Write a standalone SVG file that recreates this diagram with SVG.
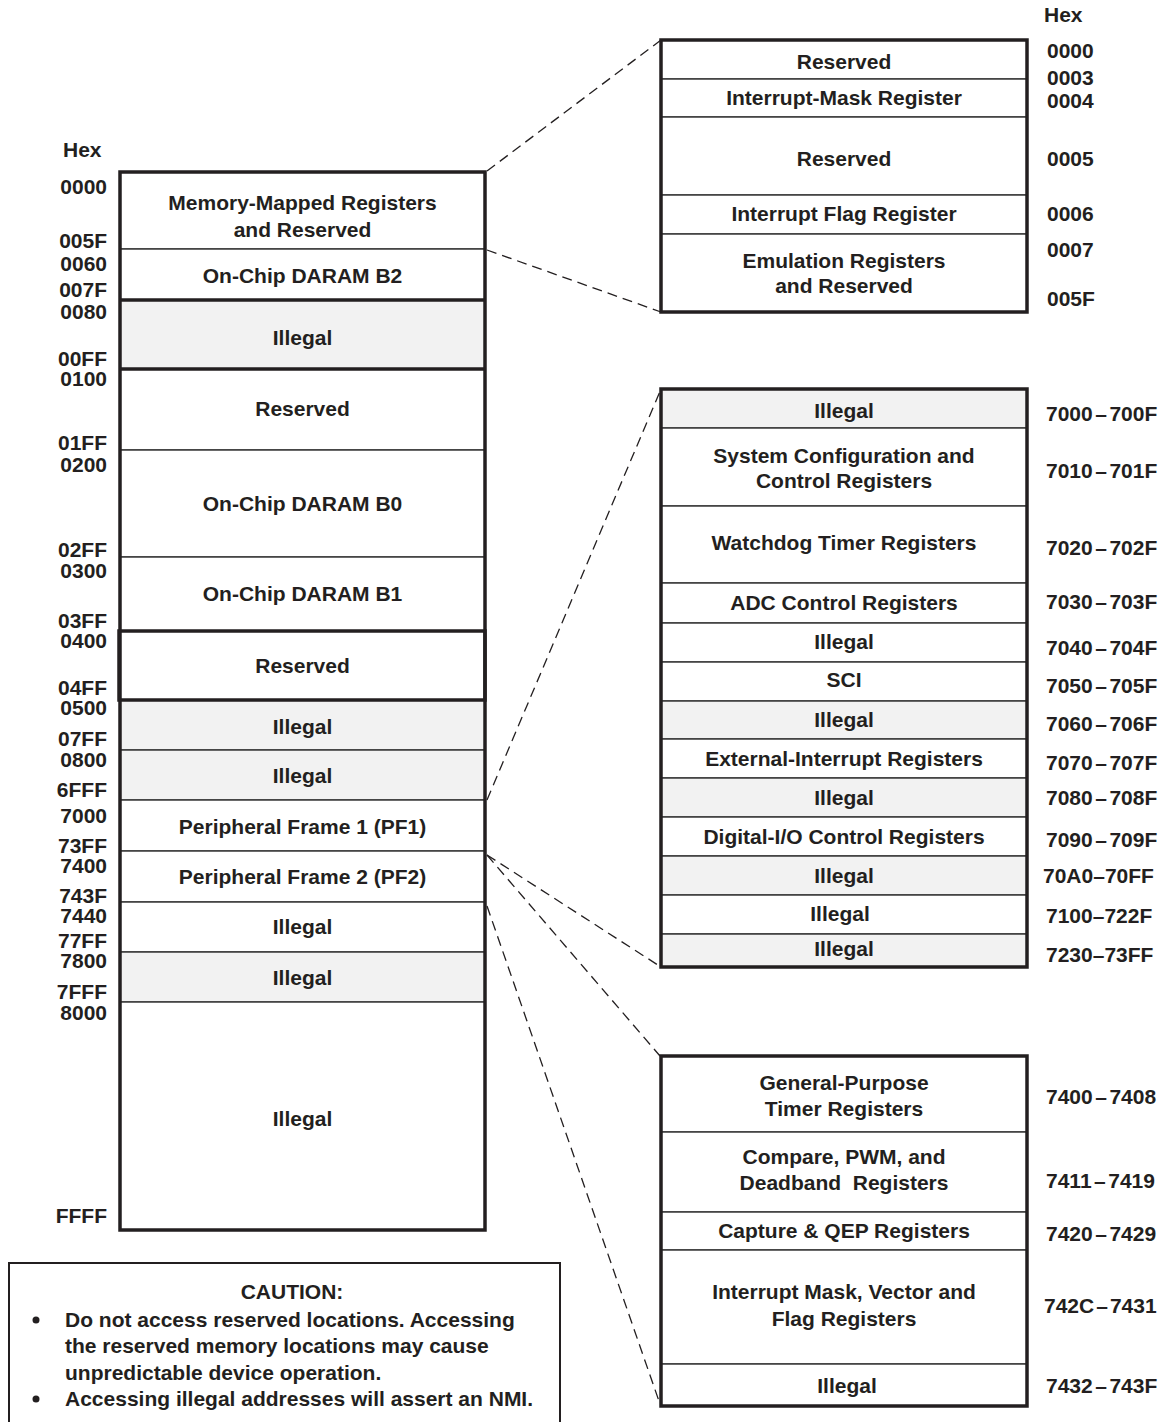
<svg xmlns="http://www.w3.org/2000/svg" width="1163" height="1422" viewBox="0 0 1163 1422">
<style>
text{font-family:"Liberation Sans",Arial,sans-serif;font-weight:bold;font-size:21px;fill:#231f20}
.c{text-anchor:middle}
.r{text-anchor:end}
.w{fill:#ffffff;stroke:#3a3a3a;stroke-width:1.5}
.g{fill:#f2f2f2;stroke:#3a3a3a;stroke-width:1.5}
.frame{fill:none;stroke:#231f20;stroke-width:3.5}
.thick{stroke:#231f20;stroke-width:3.5}
.dash{fill:none;stroke:#231f20;stroke-width:1.3;stroke-dasharray:10 6}
</style>
<rect width="1163" height="1422" fill="#ffffff"/>

<!-- Connectors -->
<g id="connectors">
<line class="dash" x1="487" y1="171" x2="661" y2="40"/>
<line class="dash" x1="487" y1="250" x2="661" y2="312"/>
<line class="dash" x1="487" y1="800" x2="661" y2="389"/>
<line class="dash" x1="487" y1="855" x2="661" y2="967"/>
<line class="dash" x1="487" y1="855" x2="660" y2="1056"/>
<line class="dash" x1="487" y1="906" x2="660" y2="1404"/>
</g>

<!-- Left memory map -->
<g id="left-hex-header"><text x="63" y="157">Hex</text></g>
<g id="mmr"><rect class="w" x="120" y="172" width="365" height="77"/><text class="c" x="302.5" y="210">Memory-Mapped Registers</text><text class="c" x="302.5" y="237">and Reserved</text></g>
<g id="daram-b2"><rect class="w" x="120" y="249" width="365" height="51"/><text class="c" x="302.5" y="283">On-Chip DARAM B2</text></g>
<g id="illegal-0080"><rect class="g" x="120" y="300" width="365" height="69"/><text class="c" x="302.5" y="345">Illegal</text></g>
<g id="reserved-0100"><rect class="w" x="120" y="369" width="365" height="81"/><text class="c" x="302.5" y="416">Reserved</text></g>
<g id="daram-b0"><rect class="w" x="120" y="450" width="365" height="107"/><text class="c" x="302.5" y="511">On-Chip DARAM B0</text></g>
<g id="daram-b1"><rect class="w" x="120" y="557" width="365" height="74"/><text class="c" x="302.5" y="601">On-Chip DARAM B1</text></g>
<g id="reserved-0400"><rect class="w" x="120" y="631" width="365" height="69"/><text class="c" x="302.5" y="673">Reserved</text></g>
<g id="illegal-0500"><rect class="g" x="120" y="700" width="365" height="50"/><text class="c" x="302.5" y="734">Illegal</text></g>
<g id="illegal-0800"><rect class="g" x="120" y="750" width="365" height="50"/><text class="c" x="302.5" y="783">Illegal</text></g>
<g id="pf1"><rect class="w" x="120" y="800" width="365" height="51"/><text class="c" x="302.5" y="834">Peripheral Frame 1 (PF1)</text></g>
<g id="pf2"><rect class="w" x="120" y="851" width="365" height="51"/><text class="c" x="302.5" y="884">Peripheral Frame 2 (PF2)</text></g>
<g id="illegal-7440"><rect class="w" x="120" y="902" width="365" height="50"/><text class="c" x="302.5" y="934">Illegal</text></g>
<g id="illegal-7800"><rect class="g" x="120" y="952" width="365" height="50"/><text class="c" x="302.5" y="985">Illegal</text></g>
<g id="illegal-8000"><rect class="w" x="120" y="1002" width="365" height="228"/><text class="c" x="302.5" y="1126">Illegal</text></g>
<g id="left-frame">
<rect class="frame" x="120" y="172" width="365" height="1058"/>
<line class="thick" x1="120" y1="300" x2="485" y2="300"/>
<line class="thick" x1="120" y1="369" x2="485" y2="369"/>
<rect class="frame" x="119" y="631" width="366" height="69"/>
</g>
<g id="left-hex-labels">
<text class="r" x="107" y="194">0000</text>
<text class="r" x="107" y="248">005F</text>
<text class="r" x="107" y="271">0060</text>
<text class="r" x="107" y="297">007F</text>
<text class="r" x="107" y="319">0080</text>
<text class="r" x="107" y="366">00FF</text>
<text class="r" x="107" y="386">0100</text>
<text class="r" x="107" y="450">01FF</text>
<text class="r" x="107" y="472">0200</text>
<text class="r" x="107" y="557">02FF</text>
<text class="r" x="107" y="578">0300</text>
<text class="r" x="107" y="628">03FF</text>
<text class="r" x="107" y="648">0400</text>
<text class="r" x="107" y="695">04FF</text>
<text class="r" x="107" y="715">0500</text>
<text class="r" x="107" y="746">07FF</text>
<text class="r" x="107" y="767">0800</text>
<text class="r" x="107" y="797">6FFF</text>
<text class="r" x="107" y="823">7000</text>
<text class="r" x="107" y="853">73FF</text>
<text class="r" x="107" y="873">7400</text>
<text class="r" x="107" y="903">743F</text>
<text class="r" x="107" y="923">7440</text>
<text class="r" x="107" y="948">77FF</text>
<text class="r" x="107" y="968">7800</text>
<text class="r" x="107" y="999">7FFF</text>
<text class="r" x="107" y="1020">8000</text>
<text class="r" x="107" y="1223">FFFF</text>
</g>

<!-- Right top: MMR detail -->
<g id="top-hex-header"><text x="1044" y="22">Hex</text></g>
<g id="t-reserved-1"><rect class="w" x="661" y="40" width="366" height="39"/><text class="c" x="844" y="69">Reserved</text></g>
<g id="t-imr"><rect class="w" x="661" y="79" width="366" height="38"/><text class="c" x="844" y="105">Interrupt-Mask Register</text></g>
<g id="t-reserved-2"><rect class="w" x="661" y="117" width="366" height="78"/><text class="c" x="844" y="166">Reserved</text></g>
<g id="t-ifr"><rect class="w" x="661" y="195" width="366" height="39"/><text class="c" x="844" y="221">Interrupt Flag Register</text></g>
<g id="t-emu"><rect class="w" x="661" y="234" width="366" height="78"/><text class="c" x="844" y="268">Emulation Registers</text><text class="c" x="844" y="293">and Reserved</text></g>
<rect class="frame" x="661" y="40" width="366" height="272"/>
<g id="top-hex-labels">
<text x="1047" y="58">0000</text>
<text x="1047" y="85">0003</text>
<text x="1047" y="108">0004</text>
<text x="1047" y="166">0005</text>
<text x="1047" y="221">0006</text>
<text x="1047" y="257">0007</text>
<text x="1047" y="306">005F</text>
</g>

<!-- Right middle: PF1 detail -->
<g id="m-illegal-7000"><rect class="g" x="661" y="389" width="366" height="39"/><text class="c" x="844" y="418">Illegal</text></g>
<g id="m-syscfg"><rect class="w" x="661" y="428" width="366" height="78"/><text class="c" x="844" y="463">System Configuration and</text><text class="c" x="844" y="488">Control Registers</text></g>
<g id="m-wd"><rect class="w" x="661" y="506" width="366" height="77"/><text class="c" x="844" y="550">Watchdog Timer Registers</text></g>
<g id="m-adc"><rect class="w" x="661" y="583" width="366" height="40"/><text class="c" x="844" y="610">ADC Control Registers</text></g>
<g id="m-illegal-7040"><rect class="w" x="661" y="623" width="366" height="39"/><text class="c" x="844" y="649">Illegal</text></g>
<g id="m-sci"><rect class="w" x="661" y="662" width="366" height="39"/><text class="c" x="844" y="687">SCI</text></g>
<g id="m-illegal-7060"><rect class="g" x="661" y="701" width="366" height="38"/><text class="c" x="844" y="727">Illegal</text></g>
<g id="m-xint"><rect class="w" x="661" y="739" width="366" height="39"/><text class="c" x="844" y="766">External-Interrupt Registers</text></g>
<g id="m-illegal-7080"><rect class="g" x="661" y="778" width="366" height="39"/><text class="c" x="844" y="805">Illegal</text></g>
<g id="m-dio"><rect class="w" x="661" y="817" width="366" height="39"/><text class="c" x="844" y="844">Digital-I/O Control Registers</text></g>
<g id="m-illegal-70a0"><rect class="g" x="661" y="856" width="366" height="39"/><text class="c" x="844" y="883">Illegal</text></g>
<g id="m-illegal-7100"><rect class="w" x="661" y="895" width="366" height="39"/><text class="c" x="840" y="921">Illegal</text></g>
<g id="m-illegal-7230"><rect class="g" x="661" y="934" width="366" height="33"/><text class="c" x="844" y="956">Illegal</text></g>
<rect class="frame" x="661" y="389" width="366" height="578"/>
<g id="mid-range-labels">
<text x="1046" y="421">7000<tspan dx="2.5">–</tspan><tspan dx="2.5">700F</tspan></text>
<text x="1046" y="478">7010<tspan dx="2.5">–</tspan><tspan dx="2.5">701F</tspan></text>
<text x="1046" y="555">7020<tspan dx="2.5">–</tspan><tspan dx="2.5">702F</tspan></text>
<text x="1046" y="609">7030<tspan dx="2.5">–</tspan><tspan dx="2.5">703F</tspan></text>
<text x="1046" y="655">7040<tspan dx="2.5">–</tspan><tspan dx="2.5">704F</tspan></text>
<text x="1046" y="693">7050<tspan dx="2.5">–</tspan><tspan dx="2.5">705F</tspan></text>
<text x="1046" y="731">7060<tspan dx="2.5">–</tspan><tspan dx="2.5">706F</tspan></text>
<text x="1046" y="770">7070<tspan dx="2.5">–</tspan><tspan dx="2.5">707F</tspan></text>
<text x="1046" y="805">7080<tspan dx="2.5">–</tspan><tspan dx="2.5">708F</tspan></text>
<text x="1046" y="847">7090<tspan dx="2.5">–</tspan><tspan dx="2.5">709F</tspan></text>
<text x="1043" y="883">70A0–70FF</text>
<text x="1046" y="923">7100–722F</text>
<text x="1046" y="962">7230–73FF</text>
</g>

<!-- Right bottom: PF2 detail -->
<g id="b-gpt"><rect class="w" x="661" y="1056" width="366" height="76"/><text class="c" x="844" y="1090">General-Purpose</text><text class="c" x="844" y="1116">Timer Registers</text></g>
<g id="b-cmp"><rect class="w" x="661" y="1132" width="366" height="80"/><text class="c" x="844" y="1164">Compare, PWM, and</text><text class="c" x="844" y="1190" xml:space="preserve">Deadband  Registers</text></g>
<g id="b-cap"><rect class="w" x="661" y="1212" width="366" height="38"/><text class="c" x="844" y="1238">Capture &amp; QEP Registers</text></g>
<g id="b-int"><rect class="w" x="661" y="1250" width="366" height="114"/><text class="c" x="844" y="1299">Interrupt Mask, Vector and</text><text class="c" x="844" y="1326">Flag Registers</text></g>
<g id="b-illegal"><rect class="w" x="661" y="1364" width="366" height="42"/><text class="c" x="847" y="1393">Illegal</text></g>
<rect class="frame" x="661" y="1056" width="366" height="350"/>
<g id="bottom-range-labels">
<text x="1046" y="1104">7400<tspan dx="2.5">–</tspan><tspan dx="2.5">7408</tspan></text>
<text x="1046" y="1188">7411<tspan dx="2.5">–</tspan><tspan dx="2.5">7419</tspan></text>
<text x="1046" y="1241">7420<tspan dx="2.5">–</tspan><tspan dx="2.5">7429</tspan></text>
<text x="1044" y="1313">742C<tspan dx="2">–</tspan><tspan dx="2">7431</tspan></text>
<text x="1046" y="1393">7432<tspan dx="2.5">–</tspan><tspan dx="2.5">743F</tspan></text>
</g>

<!-- Caution note -->
<g id="caution">
<rect x="9" y="1263" width="551" height="200" fill="#ffffff" stroke="#231f20" stroke-width="2"/>
<text class="c" x="292" y="1299">CAUTION:</text>
<circle cx="36" cy="1320" r="3.5" fill="#231f20"/>
<text x="65" y="1327">Do not access reserved locations. Accessing</text>
<text x="65" y="1353">the reserved memory locations may cause</text>
<text x="65" y="1380">unpredictable device operation.</text>
<circle cx="36" cy="1399" r="3.5" fill="#231f20"/>
<text x="65" y="1406">Accessing illegal addresses will assert an NMI.</text>
</g>
</svg>
